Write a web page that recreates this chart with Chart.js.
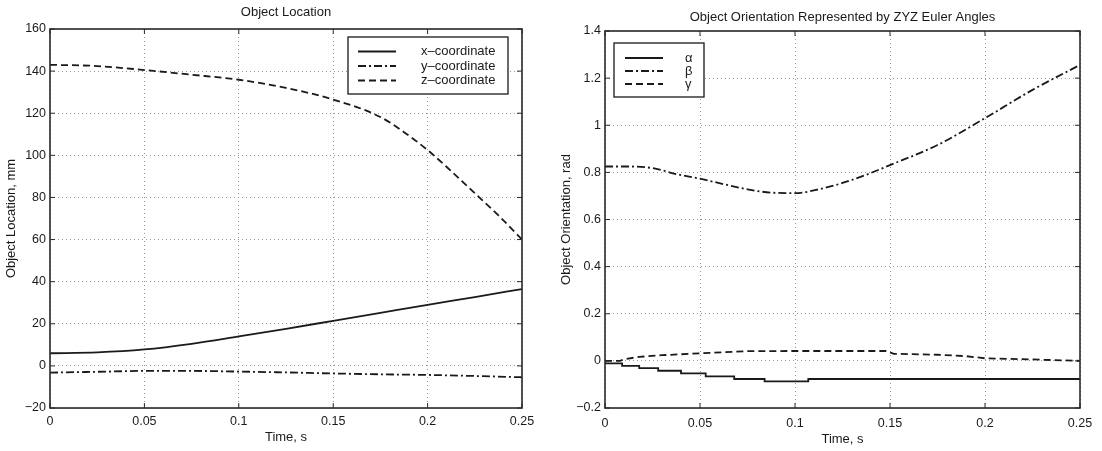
<!DOCTYPE html>
<html>
<head>
<meta charset="utf-8">
<script src="https://cdn.jsdelivr.net/npm/chart.js@4.4.1/dist/chart.umd.min.js"></script>
<style>
html,body{margin:0;padding:0;background:#fff}
.panel{position:absolute;top:0;width:551px;height:451px}
</style>
</head>
<body>
<div class="panel" style="left:0"><canvas id="locChart" width="551" height="451"></canvas></div>
<div class="panel" style="left:551px"><canvas id="oriChart" width="551" height="451"></canvas></div>
<script>
// object location, mm
const TIME_XY = [0, 0.025, 0.05, 0.075, 0.1, 0.125, 0.15, 0.175, 0.2, 0.225, 0.25];
const X_COORD = [6, 6.4, 7.8, 10.5, 14, 17.6, 21.4, 25.2, 29, 32.7, 36.5];
const Y_COORD = [-3.2, -2.8, -2.4, -2.4, -2.7, -3.1, -3.6, -4.0, -4.3, -4.8, -5.4];
const TIME_Z  = [0, 0.025, 0.05, 0.075, 0.1, 0.125, 0.15, 0.175, 0.1875, 0.2, 0.2125, 0.225, 0.2375, 0.25];
const Z_COORD = [143, 142.4, 140.5, 138.3, 135.9, 132, 126.5, 118.2, 111, 102.5, 92.5, 82, 71.5, 60];
const LOC_LABELS = ['x\u2013coordinate', 'y\u2013coordinate', 'z\u2013coordinate'];

// ZYZ euler angles, rad
const TIME_ALPHA = [0, 0.009, 0.018, 0.028, 0.040, 0.053, 0.068, 0.084, 0.107, 0.165, 0.25];
const ALPHA      = [0, -0.011, -0.021, -0.031, -0.042, -0.053, -0.066, -0.077, -0.087, -0.077, -0.077];
const TIME_BETA  = [0, 0.0125, 0.025, 0.0375, 0.05, 0.0625, 0.075, 0.0875, 0.1, 0.1125, 0.125, 0.1375, 0.15, 0.175, 0.2, 0.225, 0.25];
const BETA       = [0.825, 0.825, 0.818, 0.793, 0.773, 0.75, 0.728, 0.714, 0.712, 0.728, 0.755, 0.79, 0.831, 0.916, 1.03, 1.15, 1.256];
const TIME_GAMMA = [0, 0.008, 0.010, 0.018, 0.03, 0.05, 0.075, 0.1, 0.148, 0.152, 0.175, 0.19, 0.2, 0.225, 0.25];
const GAMMA      = [0, 0, 0.007, 0.017, 0.024, 0.032, 0.041, 0.042, 0.042, 0.03, 0.026, 0.02, 0.011, 0.006, 0];
const ORI_LABELS = ['\u03b1', '\u03b2', '\u03b3'];

const X_TICKS = [0, 0.05, 0.1, 0.15, 0.2, 0.25];

const INK = '#1a1a1a';
const DASHDOT = [8, 3, 2, 3];
const DASHED = [7, 4];

Chart.defaults.font.family = '"Liberation Sans", Arial, sans-serif';
Chart.defaults.font.size = 12;
Chart.defaults.color = INK;

const pts = (ts, vs) => ts.map((t, i) => ({x: t, y: vs[i]}));
const minus = s => s.replace('-', '\u2212');

// matlab style box, inward ticks and boxed legend inside the axes
const frame = {
  id: 'frame',
  afterDatasetsDraw(chart, args, opts) {
    const {ctx, chartArea: a, scales: {x, y}} = chart;
    ctx.save();
    ctx.strokeStyle = '#2a2a2a';
    ctx.lineWidth = 1;
    ctx.beginPath();
    x.ticks.forEach(t => {
      const px = x.getPixelForValue(t.value);
      ctx.moveTo(px, a.bottom); ctx.lineTo(px, a.bottom - 5);
      ctx.moveTo(px, a.top); ctx.lineTo(px, a.top + 5);
    });
    y.ticks.forEach(t => {
      const py = y.getPixelForValue(t.value);
      ctx.moveTo(a.left, py); ctx.lineTo(a.left + 5, py);
      ctx.moveTo(a.right, py); ctx.lineTo(a.right - 5, py);
    });
    ctx.stroke();
    ctx.lineWidth = 1.6;
    ctx.strokeRect(a.left, a.top, a.right - a.left, a.bottom - a.top);

    const lg = opts.legend;
    ctx.fillStyle = '#fff';
    ctx.fillRect(lg.left, lg.top, lg.right - lg.left, lg.bottom - lg.top);
    ctx.lineWidth = 1.4;
    ctx.strokeRect(lg.left, lg.top, lg.right - lg.left, lg.bottom - lg.top);
    ctx.font = lg.font;
    ctx.textBaseline = 'middle';
    ctx.fillStyle = INK;
    chart.data.datasets.forEach((ds, i) => {
      const ry = lg.rows[i];
      ctx.strokeStyle = ds.borderColor;
      ctx.lineWidth = ds.borderWidth;
      ctx.setLineDash(ds.borderDash || []);
      ctx.beginPath();
      ctx.moveTo(lg.sampleFrom, ry); ctx.lineTo(lg.sampleTo, ry);
      ctx.stroke();
      ctx.setLineDash([]);
      ctx.fillText(ds.label, lg.textX, ry);
    });
    ctx.restore();
  }
};

function xScale(tickPad, titlePad) {
  return {
    type: 'linear', min: 0, max: 0.25,
    afterBuildTicks: s => { s.ticks = X_TICKS.map(v => ({value: v})); },
    afterFit: s => { s.height = 43; },
    border: {display: false, dash: [1, 3]},
    grid: {color: '#9a9a9a', lineWidth: 1, drawTicks: false},
    ticks: {padding: tickPad, maxRotation: 0, autoSkip: false, font: {size: 12.5},
            callback: v => String(+v.toFixed(2))},
    title: {display: true, text: 'Time, s', font: {size: 13}, padding: {top: 0, bottom: titlePad}}
  };
}

function yScale(min, max, step, width, label, titlePad, fmt) {
  return {
    type: 'linear', min: min, max: max,
    afterFit: s => { s.width = width; },
    border: {display: false, dash: [1, 3]},
    grid: {color: '#9a9a9a', lineWidth: 1, drawTicks: false},
    ticks: {stepSize: step, padding: 4, font: {size: 12.5}, callback: fmt},
    title: {display: true, text: label, font: {size: 13}, padding: {top: titlePad, bottom: 0}}
  };
}

const lineDs = (label, data, dash, smooth) => ({
  label: label, data: data, borderColor: INK, borderWidth: 1.8, borderDash: dash,
  pointRadius: 0, fill: false,
  cubicInterpolationMode: smooth ? 'monotone' : 'default', tension: 0
});

new Chart(document.getElementById('locChart'), {
  type: 'line',
  data: {datasets: [
    lineDs(LOC_LABELS[0], pts(TIME_XY, X_COORD), [], true),
    lineDs(LOC_LABELS[1], pts(TIME_XY, Y_COORD), DASHDOT, true),
    lineDs(LOC_LABELS[2], pts(TIME_Z, Z_COORD), DASHED, true)
  ]},
  options: {
    responsive: false, animation: false, events: [],
    layout: {padding: {left: 0, right: 29, top: 0, bottom: 0}},
    plugins: {
      legend: {display: false}, tooltip: {enabled: false},
      title: {display: true, fullSize: false, text: 'Object Location', font: {size: 13, weight: 'normal'},
              padding: {top: 4.7, bottom: 8.7}},
      frame: {legend: {left: 348, right: 508, top: 37, bottom: 94, rows: [51.5, 66, 80.5],
                       sampleFrom: 358, sampleTo: 396, textX: 421, font: '13px "Liberation Sans", Arial, sans-serif'}}
    },
    scales: {
      x: xScale(6, 6),
      y: yScale(-20, 160, 20, 50, 'Object Location, mm', 4, v => minus(String(v)))
    }
  },
  plugins: [frame]
});

new Chart(document.getElementById('oriChart'), {
  type: 'line',
  data: {datasets: [
    Object.assign(lineDs(ORI_LABELS[0], pts(TIME_ALPHA, ALPHA), [], false), {stepped: 'after'}),
    lineDs(ORI_LABELS[1], pts(TIME_BETA, BETA), DASHDOT, true),
    lineDs(ORI_LABELS[2], pts(TIME_GAMMA, GAMMA), DASHED, false)
  ]},
  options: {
    responsive: false, animation: false, events: [],
    layout: {padding: {left: 0, right: 22, top: 0, bottom: 0}},
    plugins: {
      legend: {display: false}, tooltip: {enabled: false},
      title: {display: true, fullSize: false, text: 'Object Orientation Represented by ZYZ Euler Angles',
              font: {size: 13, weight: 'normal'}, padding: {top: 9.2, bottom: 6.2}},
      frame: {legend: {left: 63, right: 153, top: 43, bottom: 97, rows: [58, 71, 84],
                       sampleFrom: 74, sampleTo: 112, textX: 134, font: '13px "Liberation Sans", Arial, sans-serif'}}
    },
    scales: {
      x: xScale(8, 4),
      y: yScale(-0.2, 1.4, 0.2, 54, 'Object Orientation, rad', 8, v => minus(String(+v.toFixed(1))))
    }
  },
  plugins: [frame]
});
</script>
</body>
</html>
